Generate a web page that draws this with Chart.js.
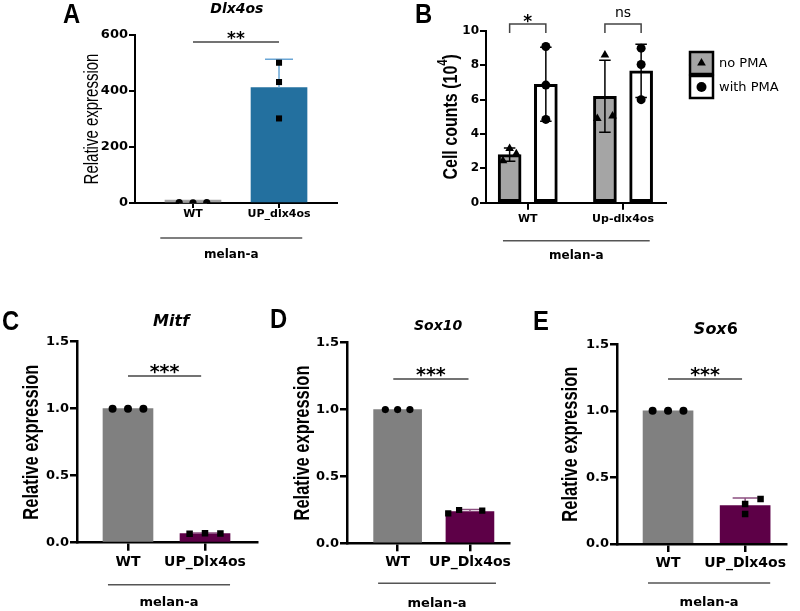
<!DOCTYPE html>
<html>
<head>
<meta charset="utf-8">
<title>melan-a Dlx4os</title>
<script src="https://cdn.jsdelivr.net/npm/chart.js@4.4.1/dist/chart.umd.min.js"></script>
<style>
  body { margin: 0; background: #fff; }
  #page { position: relative; width: 800px; height: 611px; overflow: hidden; background: #fff; }
  canvas { position: absolute; }
</style>
</head>
<body>
<div id="page">
  <canvas id="cA" width="380" height="300"></canvas>
  <canvas id="cB" width="420" height="300"></canvas>
  <canvas id="cC" width="265" height="311"></canvas>
  <canvas id="cD" width="265" height="311"></canvas>
  <canvas id="cE" width="270" height="311"></canvas>
</div>
<script>
// ==================== DATOS ====================

// A - Dlx4os
const catsA = ['WT', 'UP_dlx4os'];
const meanA = [1, 412];
const sdA = [0.4, 101];
const ptsA = [[1.3, 0.8, 1.0], [501, 432, 302]];

// B - recuento celular
const catsB = ['WT', 'Up-dlx4os'];
const seriesB = ['no PMA', 'with PMA'];
const meanNoPMA = [2.8, 6.2];
const sdNoPMA = [0.39, 2.1];
const ptsNoPMA = [[2.45, 3.15, 2.85], [4.9, 8.6, 5.05]];
const meanWithPMA = [6.9, 7.68];
const sdWithPMA = [2.15, 1.55];
const ptsWithPMA = [[4.85, 6.85, 9.1], [6.0, 8.05, 9.0]];

// C, D, E
const catsCDE = ['WT', 'UP_Dlx4os'];
const meanMitf = [1.0, 0.068];
const sdMitf = [0, 0.004];
const ptsMitf = [[1, 1, 1], [0.066, 0.07, 0.068]];
const meanSox10 = [1.0, 0.238];
const sdSox10 = [0, 0.014];
const ptsSox10 = [[1, 1, 1], [0.224, 0.249, 0.244]];
const meanSox6 = [1.0, 0.288];
const sdSox6 = [0, 0.058];
const ptsSox6 = [[1, 1, 1], [0.30, 0.225, 0.338]];

const groupLabel = 'melan-a';

// ==================== ESTILO ====================

const FONT = '"DejaVu Sans", sans-serif';
const FONT_Y = '"Liberation Sans", Arial, sans-serif';
const GREY = '#808080';
const PURPLE = '#5d0047';
const PURPLE_ERR = '#8c4f80';

function fontStr(size, weight, italic, fam) {
  return (italic ? 'italic ' : '') + (weight || 'bold') + ' ' + size + 'px ' + (fam || FONT);
}

function drawParts(ctx, parts, cx, cy, size, weight, fam) {
  let total = 0;
  const ws = parts.map(p => {
    ctx.font = fontStr(p.sup ? size * 0.7 : size, weight, p.it, fam);
    const w = ctx.measureText(p.t).width;
    total += w;
    return w;
  });
  let xx = cx - total / 2;
  ctx.textAlign = 'left';
  parts.forEach((p, i) => {
    ctx.font = fontStr(p.sup ? size * 0.7 : size, weight, p.it, fam);
    ctx.fillText(p.t, xx, p.sup ? cy - size * 0.4 : cy);
    xx += ws[i];
  });
}

// ==================== PLUGIN DECORACION ====================

function makeDeco(p) {
  const d = p.deco;
  return {
    id: 'deco_' + p.canvas,
    afterDatasetDraw(chart, args) {
      const ds = chart.data.datasets[args.index];
      if (!ds.sd) return;
      const y = chart.scales.y;
      const ctx = chart.ctx;
      ctx.save();
      ctx.lineWidth = ds.errW;
      args.meta.data.forEach((bar, i) => {
        const s = ds.sd[i];
        if (!s) return;
        const m = ds.data[i].y;
        const yTop = y.getPixelForValue(m + s);
        const yBot = ds.errBoth ? y.getPixelForValue(m - s) : y.getPixelForValue(m);
        const half = bar.width * 0.25;
        ctx.strokeStyle = ds.errColor[i];
        ctx.beginPath();
        ctx.moveTo(bar.x, yBot); ctx.lineTo(bar.x, yTop);
        ctx.moveTo(bar.x - half, yTop); ctx.lineTo(bar.x + half, yTop);
        if (ds.errBoth) { ctx.moveTo(bar.x - half, yBot); ctx.lineTo(bar.x + half, yBot); }
        ctx.stroke();
      });
      ctx.restore();
    },
    afterDraw(chart) {
      const ctx = chart.ctx;
      const a = chart.chartArea;
      const x = chart.scales.x, y = chart.scales.y;
      ctx.save();
      ctx.fillStyle = '#000';

      // letra del panel
      ctx.save();
      ctx.translate(d.letter.x, d.letter.y);
      ctx.scale(0.85, 1);
      ctx.font = 'bold 28px ' + FONT_Y;
      ctx.textAlign = 'left'; ctx.textBaseline = 'alphabetic';
      ctx.fillText(d.letter.t, 0, 0);
      ctx.restore();

      // titulo (gen)
      ctx.textBaseline = 'alphabetic';
      drawParts(ctx, d.title.parts, x.getPixelForValue(d.title.x), a.top + d.title.dy, d.title.size, 'bold');

      // titulo eje y
      ctx.save();
      ctx.translate(a.left - d.yTitle.dx, (a.top + a.bottom) / 2);
      ctx.rotate(-Math.PI / 2);
      ctx.scale(1, 1.3);
      ctx.textBaseline = 'middle';
      drawParts(ctx, d.yTitle.parts, 0, 0, d.yTitle.size, d.yTitle.weight, FONT_Y);
      ctx.restore();

      // significancia
      d.sig.forEach(s => {
        let x0, x1;
        if (s.bars) {
          x0 = chart.getDatasetMeta(s.bars[0]).data[s.cat].x;
          x1 = chart.getDatasetMeta(s.bars[1]).data[s.cat].x;
        } else {
          x0 = x.getPixelForValue(s.x0); x1 = x.getPixelForValue(s.x1);
        }
        const yy = y.getPixelForValue(s.y);
        ctx.strokeStyle = '#444'; ctx.lineWidth = 1.5;
        ctx.beginPath();
        if (s.leg != null) {
          const yl = y.getPixelForValue(s.leg);
          ctx.moveTo(x0, yl); ctx.lineTo(x0, yy); ctx.lineTo(x1, yy); ctx.lineTo(x1, yl);
        } else {
          ctx.moveTo(x0, yy); ctx.lineTo(x1, yy);
        }
        ctx.stroke();
        ctx.textAlign = 'center'; ctx.textBaseline = 'alphabetic';
        ctx.font = fontStr(s.size, s.weight || 'bold');
        ctx.fillText(s.text, (x0 + x1) / 2, yy + s.tdy);
      });

      // linea de grupo
      const g = d.group;
      const gx0 = x.getPixelForValue(g.x0), gx1 = x.getPixelForValue(g.x1);
      ctx.strokeStyle = '#555'; ctx.lineWidth = 1.5;
      ctx.beginPath();
      ctx.moveTo(gx0, a.bottom + g.dy); ctx.lineTo(gx1, a.bottom + g.dy);
      ctx.stroke();
      ctx.textAlign = 'center'; ctx.textBaseline = 'middle';
      ctx.font = fontStr(g.size, 'bold');
      ctx.fillText(groupLabel, (gx0 + gx1) / 2, a.bottom + g.tdy);

      // leyenda (solo B)
      if (d.legend) {
        const L = d.legend;
        L.items.forEach((it, i) => {
          const bx = L.x, by = L.y + i * L.step;
          ctx.fillStyle = it.fill;
          ctx.fillRect(bx, by, L.box, L.box - 1);
          ctx.strokeStyle = '#000'; ctx.lineWidth = 2.5;
          ctx.strokeRect(bx, by, L.box, L.box - 1);
          ctx.fillStyle = '#000';
          Chart.helpers.drawPoint(ctx, { pointStyle: it.marker, radius: 5, borderWidth: 0, rotation: 0 },
            bx + L.box / 2, by + (L.box - 1) / 2);
          ctx.textAlign = 'left'; ctx.textBaseline = 'middle';
          ctx.font = fontStr(13, 'normal');
          ctx.fillText(it.label, bx + L.box + 6, by + L.box / 2);
        });
      }
      ctx.restore();
    }
  };
}

// ==================== PANELES ====================

const panels = [
  {
    canvas: 'cA', left: 0, top: 0, w: 380, h: 300,
    area: { left: 135, top: 35, right: 337, bottom: 203 },
    xMin: -0.674, xMax: 1.674, yMax: 600, yStep: 200, yDec: 0,
    cats: catsA, tickSize: 13, catSize: 11, yTickLen: 6, xTickLen: 5, xPad: 0, axisW: 2,
    bars: [{
      mean: meanA, sd: sdA, pts: ptsA, shift: 0, thick: 56, minLen: 3,
      fill: ['#a3a3a3', '#23709f'], border: 0, errColor: ['#888', '#6aa6d6'], errBoth: false, errW: 1.5,
      marker: ['circle', 'rect'], radius: [3.6, 4.3], jitter: [[-0.16, 0, 0.16], [0, 0, 0]]
    }],
    deco: {
      letter: { t: 'A', x: 63, y: 23 },
      title: { parts: [{ t: 'Dlx4os', it: true }], x: 0.51, dy: -22, size: 14 },
      yTitle: { parts: [{ t: 'Relative expression' }], dx: 42, size: 15, weight: 'normal' },
      sig: [{ x0: 0, x1: 1, y: 575, text: '**', size: 17, tdy: 1.5 }],
      group: { x0: -0.38, x1: 1.27, dy: 35, tdy: 52, size: 12 }
    }
  },
  {
    canvas: 'cB', left: 380, top: 0, w: 420, h: 300,
    area: { left: 486, top: 31, right: 666, bottom: 202.7 },
    xMin: -0.438, xMax: 1.451, yMax: 10, yStep: 2, yDec: 0,
    cats: catsB, tickSize: 12, catSize: 11, yTickLen: 6, xTickLen: 7, xPad: 3, axisW: 2,
    bars: [{
      mean: meanNoPMA, sd: sdNoPMA, pts: ptsNoPMA, shift: -0.19, thick: 23,
      fill: ['#a5a5a5', '#a5a5a5'], border: 3, errColor: ['#000', '#000'], errBoth: true, errW: 1.5,
      marker: ['triangle', 'triangle'], radius: [5, 5], jitter: [[-0.07, 0, 0.07], [-0.08, 0, 0.08]]
    }, {
      mean: meanWithPMA, sd: sdWithPMA, pts: ptsWithPMA, shift: 0.19, thick: 23,
      fill: ['#ffffff', '#ffffff'], border: 3, errColor: ['#000', '#000'], errBoth: true, errW: 1.5,
      marker: ['circle', 'circle'], radius: [4.5, 4.5], jitter: [[0, 0, 0], [0, 0, 0]]
    }],
    deco: {
      letter: { t: 'B', x: 35, y: 23 },
      title: { parts: [], x: 0.5, dy: 0, size: 14 },
      yTitle: { parts: [{ t: 'Cell counts (10' }, { t: '4', sup: true }, { t: ')' }], dx: 35, size: 16, weight: 'bold' },
      sig: [
        { bars: [0, 2], cat: 0, y: 10.41, leg: 9.88, text: '*', size: 17, tdy: 3 },
        { bars: [0, 2], cat: 1, y: 10.41, leg: 9.88, text: 'ns', size: 14, weight: 'normal', tdy: -7 }
      ],
      group: { x0: -0.26, x1: 1.28, dy: 38, tdy: 53, size: 12 },
      legend: {
        x: 310, y: 52, step: 24, box: 23,
        items: [
          { label: seriesB[0], fill: '#a5a5a5', marker: 'triangle' },
          { label: seriesB[1], fill: '#ffffff', marker: 'circle' }
        ]
      }
    }
  },
  {
    canvas: 'cC', left: 0, top: 300, w: 265, h: 311,
    area: { left: 77, top: 341.7, right: 257, bottom: 542.7 },
    xMin: -0.662, xMax: 1.675, yMax: 1.5, yStep: 0.5, yDec: 1,
    cats: catsCDE, tickSize: 13, catSize: 14, yTickLen: 7, xTickLen: 8, xPad: 3, axisW: 2.5,
    bars: [{
      mean: meanMitf, sd: sdMitf, pts: ptsMitf, shift: 0, thick: 50,
      fill: [GREY, PURPLE], border: 0, errColor: [GREY, PURPLE_ERR], errBoth: false, errW: 1.5,
      marker: ['circle', 'rect'], radius: [4, 4.6], jitter: [[-0.2, 0, 0.2], [-0.2, 0, 0.2]]
    }],
    deco: {
      letter: { t: 'C', x: 2, y: 30 },
      title: { parts: [{ t: 'Mitf', it: true }], x: 0.56, dy: -16, size: 16 },
      yTitle: { parts: [{ t: 'Relative expression' }], dx: 45, size: 16.5, weight: 'bold' },
      sig: [{ x0: 0, x1: 0.95, y: 1.244, text: '***', size: 19, tdy: 2 }],
      group: { x0: -0.26, x1: 1.325, dy: 42, tdy: 60, size: 13 }
    }
  },
  {
    canvas: 'cD', left: 265, top: 300, w: 265, h: 311,
    area: { left: 347, top: 342.7, right: 509, bottom: 543.3 },
    xMin: -0.70, xMax: 1.54, yMax: 1.5, yStep: 0.5, yDec: 1,
    cats: catsCDE, tickSize: 13, catSize: 14, yTickLen: 7, xTickLen: 8, xPad: 3, axisW: 2.5,
    bars: [{
      mean: meanSox10, sd: sdSox10, pts: ptsSox10, shift: 0, thick: 48,
      fill: [GREY, PURPLE], border: 0, errColor: [GREY, PURPLE_ERR], errBoth: false, errW: 1.5,
      marker: ['circle', 'rect'], radius: [3.6, 4.4], jitter: [[-0.17, 0, 0.17], [-0.3, -0.15, 0.17]]
    }],
    deco: {
      letter: { t: 'D', x: 5, y: 28 },
      title: { parts: [{ t: 'Sox10', it: true }], x: 0.56, dy: -13, size: 14 },
      yTitle: { parts: [{ t: 'Relative expression' }], dx: 44, size: 16.5, weight: 'bold' },
      sig: [{ x0: -0.06, x1: 0.98, y: 1.229, text: '***', size: 19, tdy: 2 }],
      group: { x0: -0.27, x1: 1.36, dy: 40, tdy: 60, size: 13 }
    }
  },
  {
    canvas: 'cE', left: 530, top: 300, w: 270, h: 311,
    area: { left: 617, top: 344.3, right: 786, bottom: 544 },
    xMin: -0.662, xMax: 1.53, yMax: 1.5, yStep: 0.5, yDec: 1,
    cats: catsCDE, tickSize: 13, catSize: 14, yTickLen: 7, xTickLen: 8, xPad: 3, axisW: 2.5,
    bars: [{
      mean: meanSox6, sd: sdSox6, pts: ptsSox6, shift: 0, thick: 50,
      fill: [GREY, PURPLE], border: 0, errColor: [GREY, PURPLE_ERR], errBoth: false, errW: 1.5,
      marker: ['circle', 'rect'], radius: [4, 4.6], jitter: [[-0.2, 0, 0.2], [0, 0, 0.2]]
    }],
    deco: {
      letter: { t: 'E', x: 3, y: 30 },
      title: { parts: [{ t: 'Sox', it: true }, { t: '6' }], x: 0.62, dy: -10, size: 16 },
      yTitle: { parts: [{ t: 'Relative expression' }], dx: 46, size: 16.5, weight: 'bold' },
      sig: [{ x0: 0, x1: 0.96, y: 1.24, text: '***', size: 19, tdy: 2 }],
      group: { x0: -0.26, x1: 1.325, dy: 39, tdy: 59, size: 13 }
    }
  }
];

// ==================== CONSTRUCCION ====================

function buildPanel(p) {
  const cv = document.getElementById(p.canvas);
  cv.style.left = p.left + 'px';
  cv.style.top = p.top + 'px';

  const datasets = [];
  p.bars.forEach(b => {
    datasets.push({
      type: 'bar',
      data: p.cats.map((c, i) => ({ x: i + b.shift, y: b.mean[i] })),
      backgroundColor: b.fill,
      borderColor: '#000',
      borderWidth: b.border,
      borderSkipped: false,
      barThickness: b.thick,
      grouped: false,
      minBarLength: b.minLen || 0,
      order: 2,
      sd: b.sd, errColor: b.errColor, errBoth: b.errBoth, errW: b.errW
    });
    const pts = [], styles = [], radii = [];
    p.cats.forEach((c, i) => {
      b.pts[i].forEach((v, k) => {
        pts.push({ x: i + b.shift + b.jitter[i][k], y: v });
        styles.push(b.marker[i]);
        radii.push(b.radius[i]);
      });
    });
    datasets.push({
      type: 'scatter',
      data: pts,
      pointStyle: styles,
      pointRadius: radii,
      pointBackgroundColor: '#000',
      pointBorderWidth: 0,
      order: 1
    });
  });

  const gridOpts = len => ({
    offset: false, drawOnChartArea: false, drawTicks: true, tickLength: len, color: '#000', lineWidth: p.axisW
  });

  return new Chart(cv.getContext('2d'), {
    type: 'bar',
    data: { datasets },
    options: {
      responsive: false,
      animation: false,
      devicePixelRatio: 1,
      events: [],
      layout: {
        padding: { left: 0, bottom: 0, top: p.area.top - p.top, right: p.left + p.w - p.area.right }
      },
      plugins: { legend: { display: false }, tooltip: { enabled: false } },
      scales: {
        x: {
          type: 'linear',
          offset: false,
          min: p.xMin, max: p.xMax,
          afterBuildTicks: s => { s.ticks = p.cats.map((c, i) => ({ value: i })); },
          afterFit: s => { s.height = p.top + p.h - p.area.bottom; },
          ticks: {
            callback: v => p.cats[v],
            autoSkip: false, maxRotation: 0, padding: p.xPad, color: '#000',
            font: { family: FONT, size: p.catSize, weight: 'bold' }
          },
          grid: gridOpts(p.xTickLen),
          border: { color: '#000', width: p.axisW }
        },
        y: {
          min: 0, max: p.yMax,
          afterFit: s => { s.width = p.area.left - p.left; },
          ticks: {
            stepSize: p.yStep,
            callback: v => v.toFixed(p.yDec),
            padding: 1, color: '#000',
            font: { family: FONT, size: p.tickSize, weight: 'bold' }
          },
          grid: gridOpts(p.yTickLen),
          border: { color: '#000', width: p.axisW }
        }
      }
    },
    plugins: [makeDeco(p)]
  });
}

panels.forEach(buildPanel);
</script>
</body>
</html>
